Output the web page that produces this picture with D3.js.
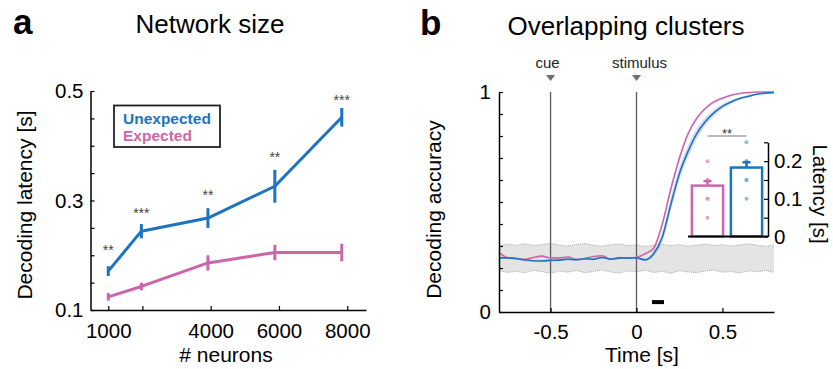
<!DOCTYPE html>
<html>
<head>
<meta charset="utf-8">
<script src="https://cdn.jsdelivr.net/npm/d3@7"></script>
<style>
  html, body { margin: 0; padding: 0; background: #fff; }
  svg { display: block; }
  text { font-family: 'Liberation Sans', Arial, Helvetica, sans-serif; }
</style>
</head>
<body>
<svg id="chart" width="833" height="369"></svg>
<script>
// ---------------- Panel a data ----------------
const neurons = [1000, 1970, 3920, 5880, 7840];
const unexpLatency = [0.171, 0.244, 0.268, 0.326, 0.452];
const unexpErr = [0.009, 0.013, 0.018, 0.030, 0.017];
const expLatency = [0.124, 0.143, 0.186, 0.205, 0.205];
const expErr = [0.007, 0.007, 0.014, 0.014, 0.016];
const sigLabels = ["**", "***", "**", "**", "***"];
const sigLevel = [0.215, 0.283, 0.316, 0.385, 0.489];
const neuronTicks = [1000, 2000, 4000, 6000, 8000];
const neuronTickLabels = ["1000", "", "4000", "6000", "8000"];
const latencyTicks = [0.1, 0.15, 0.2, 0.25, 0.3, 0.35, 0.4, 0.45, 0.5];
const latencyTickLabels = ["0.1", "", "", "", "0.3", "", "", "", "0.5"];

// ---------------- Panel b data ----------------
const time = [-0.8,-0.75,-0.7,-0.65,-0.6,-0.55,-0.5,-0.45,-0.4,-0.35,-0.3,-0.25,-0.2,-0.15,-0.1,-0.05,
              0,0.05,0.1,0.15,0.2,0.25,0.3,0.35,0.4,0.45,0.5,0.55,0.6,0.65,0.7,0.75,0.8];
const expectedAcc = [0.270,0.247,0.243,0.240,0.248,0.254,0.246,0.246,0.250,0.238,0.243,0.252,0.256,0.240,0.244,0.245,
                     0.248,0.265,0.290,0.400,0.560,0.700,0.810,0.880,0.925,0.955,0.972,0.985,0.993,0.997,1.0,1.0,1.0];
const expectedSem = [0.004,0.004,0.004,0.004,0.004,0.004,0.004,0.004,0.004,0.004,0.004,0.004,0.004,0.004,0.004,0.004,
                     0.004,0.005,0.008,0.012,0.014,0.012,0.010,0.008,0.006,0.005,0.004,0.003,0.002,0.002,0.001,0.001,0.001];
const unexpectedAcc = [0.246,0.246,0.243,0.236,0.233,0.232,0.235,0.236,0.240,0.238,0.242,0.240,0.248,0.240,0.246,0.245,
                       0.246,0.237,0.265,0.340,0.490,0.630,0.730,0.810,0.865,0.905,0.935,0.955,0.970,0.980,0.990,0.995,0.997];
const unexpectedSem = [0.005,0.005,0.005,0.005,0.005,0.005,0.005,0.005,0.005,0.005,0.005,0.005,0.005,0.005,0.005,0.005,
                       0.005,0.006,0.012,0.022,0.030,0.030,0.028,0.025,0.020,0.016,0.012,0.009,0.006,0.004,0.003,0.002,0.002];
const chanceUpper = [0.300,0.308,0.303,0.310,0.302,0.306,0.312,0.304,0.300,0.307,0.311,0.303,0.299,0.306,0.309,0.302,
                     0.305,0.298,0.303,0.308,0.301,0.306,0.299,0.304,0.309,0.302,0.306,0.300,0.305,0.310,0.303,0.299,0.304];
const chanceLower = [0.188,0.180,0.185,0.178,0.190,0.183,0.176,0.186,0.181,0.189,0.179,0.184,0.191,0.182,0.177,0.187,
                     0.183,0.190,0.180,0.185,0.176,0.188,0.182,0.179,0.186,0.191,0.181,0.184,0.177,0.187,0.183,0.189,0.180];
const eventTimes = [-0.5, 0];
const eventLabels = ["cue", "stimulus"];
const sigWindow = [0.09, 0.16];
const sigWindowLevel = 0.045;
const timeTicks = [-0.5, 0, 0.5];
const timeTickLabels = ["-0.5", "0", "0.5"];
const accTicks = [0, 0.1, 0.2, 0.3, 0.4, 0.5, 0.6, 0.7, 0.8, 0.9, 1];
const accTickLabels = ["0", "", "", "", "", "", "", "", "", "", "1"];

// inset
const insetGroups = ["Expected", "Unexpected"];
const insetMeans = [0.135, 0.183];
const insetSems = [0.012, 0.014];
const insetDots = [[0.2, 0.15, 0.15, 0.1, 0.1, 0.05], [0.25, 0.2, 0.2, 0.15, 0.15, 0.1]];
const insetTicks = [0, 0.05, 0.1, 0.15, 0.2, 0.25];
const insetTickLabels = ["0", "", "0.1", "", "0.2", ""];
const insetSig = "**";

// ---------------- styles ----------------
const BLUE = "#1b74bf";
const PINK = "#cc66aa";
const BLUE_LIGHT = "#6aaee3";
const PINK_LIGHT = "#de8fc6";

const svg = d3.select("#chart");

function styleAxis(g) {
  g.select(".domain").attr("stroke", "#000").attr("stroke-width", 1.5);
  g.selectAll(".tick line").attr("stroke", "#000").attr("stroke-width", 1.2);
  g.selectAll(".tick text").attr("fill", "#000").style("font-size", "20.5px")
    .style("font-family", "'Liberation Sans', Arial, sans-serif");
}

// ================= Panel a =================
const xa = d3.scaleLinear().domain([480, 8550]).range([90.5, 366]);
const ya = d3.scaleLinear().domain([0.1, 0.5]).range([310, 91]);

svg.append("text").attr("x", 13).attr("y", 34).text("a")
  .style("font-size", "35px").style("font-weight", "bold");
svg.append("text").attr("x", 210).attr("y", 33).attr("text-anchor", "middle")
  .text("Network size").style("font-size", "26px");

svg.append("g").attr("transform", "translate(0,310)")
  .call(d3.axisBottom(xa).tickValues(neuronTicks)
    .tickFormat((d, i) => neuronTickLabels[i]).tickSizeInner(-4).tickSizeOuter(0).tickPadding(13))
  .call(styleAxis);
svg.append("g").attr("transform", "translate(90.5,0)")
  .call(d3.axisLeft(ya).tickValues(latencyTicks)
    .tickFormat((d, i) => latencyTickLabels[i]).tickSizeInner(-4).tickSizeOuter(0).tickPadding(7))
  .call(styleAxis);

svg.append("text").attr("transform", "translate(32,205) rotate(-90)")
  .attr("text-anchor", "middle").text("Decoding latency [s]").style("font-size", "21px");
svg.append("text").attr("x", 226).attr("y", 362).attr("text-anchor", "middle")
  .text("# neurons").style("font-size", "21px");

function drawSeries(values, errs, color) {
  const pts = neurons.map((n, i) => [n, values[i], errs[i]]);
  svg.append("path").datum(pts)
    .attr("fill", "none").attr("stroke", color).attr("stroke-width", 3)
    .attr("stroke-linejoin", "round")
    .attr("d", d3.line().x(d => xa(d[0])).y(d => ya(d[1])));
  svg.append("g").selectAll("line").data(pts).join("line")
    .attr("x1", d => xa(d[0])).attr("x2", d => xa(d[0]))
    .attr("y1", d => ya(d[1] - d[2])).attr("y2", d => ya(d[1] + d[2]))
    .attr("stroke", color).attr("stroke-width", 3);
}
drawSeries(expLatency, expErr, PINK);
drawSeries(unexpLatency, unexpErr, BLUE);

svg.append("g").selectAll("text").data(neurons).join("text")
  .attr("x", d => xa(d)).attr("y", (d, i) => ya(sigLevel[i]) + 8)
  .attr("text-anchor", "middle").attr("fill", "#444")
  .style("font-size", "14px").text((d, i) => sigLabels[i]);

// legend
svg.append("rect").attr("x", 114).attr("y", 105.5).attr("width", 106).attr("height", 41.5)
  .attr("fill", "#fff").attr("stroke", "#222").attr("stroke-width", 1.8);
svg.append("text").attr("x", 123).attr("y", 123.5).text("Unexpected")
  .attr("fill", BLUE).style("font-size", "15.5px").style("font-weight", "bold");
svg.append("text").attr("x", 123).attr("y", 140.5).text("Expected")
  .attr("fill", PINK).style("font-size", "15.5px").style("font-weight", "bold");

// ================= Panel b =================
const xb = d3.scaleLinear().domain([-0.8, 0.8]).range([499, 774]);
const yb = d3.scaleLinear().domain([0, 1]).range([312, 92]);

svg.append("text").attr("x", 420).attr("y", 35).text("b")
  .style("font-size", "35px").style("font-weight", "bold");
svg.append("text").attr("x", 626).attr("y", 35).attr("text-anchor", "middle")
  .text("Overlapping clusters").style("font-size", "26px");

// chance band
const chance = time.map((t, i) => [t, chanceLower[i], chanceUpper[i]]);
svg.append("path").datum(chance).attr("fill", "#e4e4e4")
  .attr("d", d3.area().x(d => xb(d[0])).y0(d => yb(d[1])).y1(d => yb(d[2])));
[1, 2].forEach(k => {
  svg.append("path").datum(chance).attr("fill", "none").attr("stroke", "#a8a8a8")
    .attr("stroke-width", 1).attr("stroke-dasharray", "1,1")
    .attr("d", d3.line().x(d => xb(d[0])).y(d => yb(d[k])));
});

// event lines
svg.append("g").selectAll("line").data(eventTimes).join("line")
  .attr("x1", d => xb(d)).attr("x2", d => xb(d))
  .attr("y1", yb(1)).attr("y2", yb(0))
  .attr("stroke", "#5a5a5a").attr("stroke-width", 1.3);
svg.append("g").selectAll("path").data(eventTimes).join("path")
  .attr("d", d => `M${xb(d) - 4.5},75 L${xb(d) + 4.5},75 L${xb(d)},81 Z`)
  .attr("fill", "#6e6e6e");
svg.append("g").selectAll("text").data(eventTimes).join("text")
  .attr("x", (d, i) => xb(d) + (i === 0 ? -3 : 3)).attr("y", 68)
  .attr("text-anchor", "middle").attr("fill", "#222")
  .style("font-size", "15px").text((d, i) => eventLabels[i]);

// curves with sem bands
function drawCurve(acc, sem, color, bandColor) {
  const pts = time.map((t, i) => [t, acc[i], sem[i]]);
  svg.append("path").datum(pts).attr("fill", bandColor).attr("opacity", 0.45)
    .attr("d", d3.area().curve(d3.curveMonotoneX).x(d => xb(d[0]))
      .y0(d => yb(Math.max(0, d[1] - d[2]))).y1(d => yb(Math.min(1, d[1] + d[2]))));
  svg.append("path").datum(pts).attr("fill", "none").attr("stroke", color)
    .attr("stroke-width", 1.6)
    .attr("d", d3.line().curve(d3.curveMonotoneX).x(d => xb(d[0])).y(d => yb(d[1])));
}
drawCurve(expectedAcc, expectedSem, PINK, "#e7b8d6");
drawCurve(unexpectedAcc, unexpectedSem, BLUE, "#aab4dc");

// significance window
svg.append("line").attr("x1", xb(sigWindow[0])).attr("x2", xb(sigWindow[1]))
  .attr("y1", yb(sigWindowLevel)).attr("y2", yb(sigWindowLevel))
  .attr("stroke", "#000").attr("stroke-width", 4);

// axes
svg.append("g").attr("transform", "translate(0,312)")
  .call(d3.axisBottom(xb).tickValues(timeTicks)
    .tickFormat((d, i) => timeTickLabels[i]).tickSizeInner(-4).tickSizeOuter(0).tickPadding(12))
  .call(styleAxis);
svg.append("g").attr("transform", "translate(499,0)")
  .call(d3.axisLeft(yb).tickValues(accTicks)
    .tickFormat((d, i) => accTickLabels[i]).tickSizeInner(-4).tickSizeOuter(0).tickPadding(8))
  .call(styleAxis);

svg.append("text").attr("transform", "translate(441,209.5) rotate(-90)")
  .attr("text-anchor", "middle").text("Decoding accuracy").style("font-size", "21px");
svg.append("text").attr("x", 642).attr("y", 362).attr("text-anchor", "middle")
  .text("Time [s]").style("font-size", "21px");

// ================= Inset =================
const xi = d3.scaleBand().domain(insetGroups).range([688, 766]).paddingInner(0.2).paddingOuter(0.1);
const yi = d3.scaleLinear().domain([0, 0.25]).range([236.5, 142.3]);
const insetColors = [PINK, BLUE];
const insetLight = [PINK_LIGHT, BLUE_LIGHT];

svg.append("g").selectAll("rect").data(insetGroups).join("rect")
  .attr("x", d => xi(d)).attr("width", xi.bandwidth())
  .attr("y", (d, i) => yi(insetMeans[i])).attr("height", (d, i) => yi(0) - yi(insetMeans[i]))
  .attr("fill", "#fff").attr("stroke", (d, i) => insetColors[i]).attr("stroke-width", 2.5);

insetGroups.forEach((g, i) => {
  const cx = xi(g) + xi.bandwidth() / 2;
  svg.append("g").selectAll("circle").data(insetDots[i]).join("circle")
    .attr("cx", cx).attr("cy", d => yi(d)).attr("r", 2)
    .attr("fill", insetLight[i]).attr("opacity", 0.8);
  svg.append("line").attr("x1", cx).attr("x2", cx)
    .attr("y1", yi(insetMeans[i])).attr("y2", yi(insetMeans[i] + insetSems[i]))
    .attr("stroke", insetColors[i]).attr("stroke-width", 2.5);
  svg.append("line").attr("x1", cx - 4).attr("x2", cx + 4)
    .attr("y1", yi(insetMeans[i] + insetSems[i])).attr("y2", yi(insetMeans[i] + insetSems[i]))
    .attr("stroke", insetColors[i]).attr("stroke-width", 2.5);
});

// inset baseline
svg.append("line").attr("x1", 688).attr("x2", 768).attr("y1", yi(0)).attr("y2", yi(0))
  .attr("stroke", "#000").attr("stroke-width", 2);

svg.append("g").attr("transform", "translate(768,0)")
  .call(d3.axisRight(yi).tickValues(insetTicks)
    .tickFormat((d, i) => insetTickLabels[i]).tickSizeInner(-4).tickSizeOuter(0).tickPadding(6))
  .call(styleAxis);

svg.append("text").attr("transform", "translate(813,194) rotate(90)")
  .attr("text-anchor", "middle").text("Latency [s]").style("font-size", "20.5px");

// inset significance
const c0 = xi(insetGroups[0]) + xi.bandwidth() / 2;
const c1 = xi(insetGroups[1]) + xi.bandwidth() / 2;
svg.append("line").attr("x1", c0).attr("x2", c1).attr("y1", 136).attr("y2", 136)
  .attr("stroke", "#777").attr("stroke-width", 1);
svg.append("text").attr("x", (c0 + c1) / 2).attr("y", 138).attr("text-anchor", "middle")
  .attr("fill", "#333").style("font-size", "13px").text(insetSig);
</script>
</body>
</html>
